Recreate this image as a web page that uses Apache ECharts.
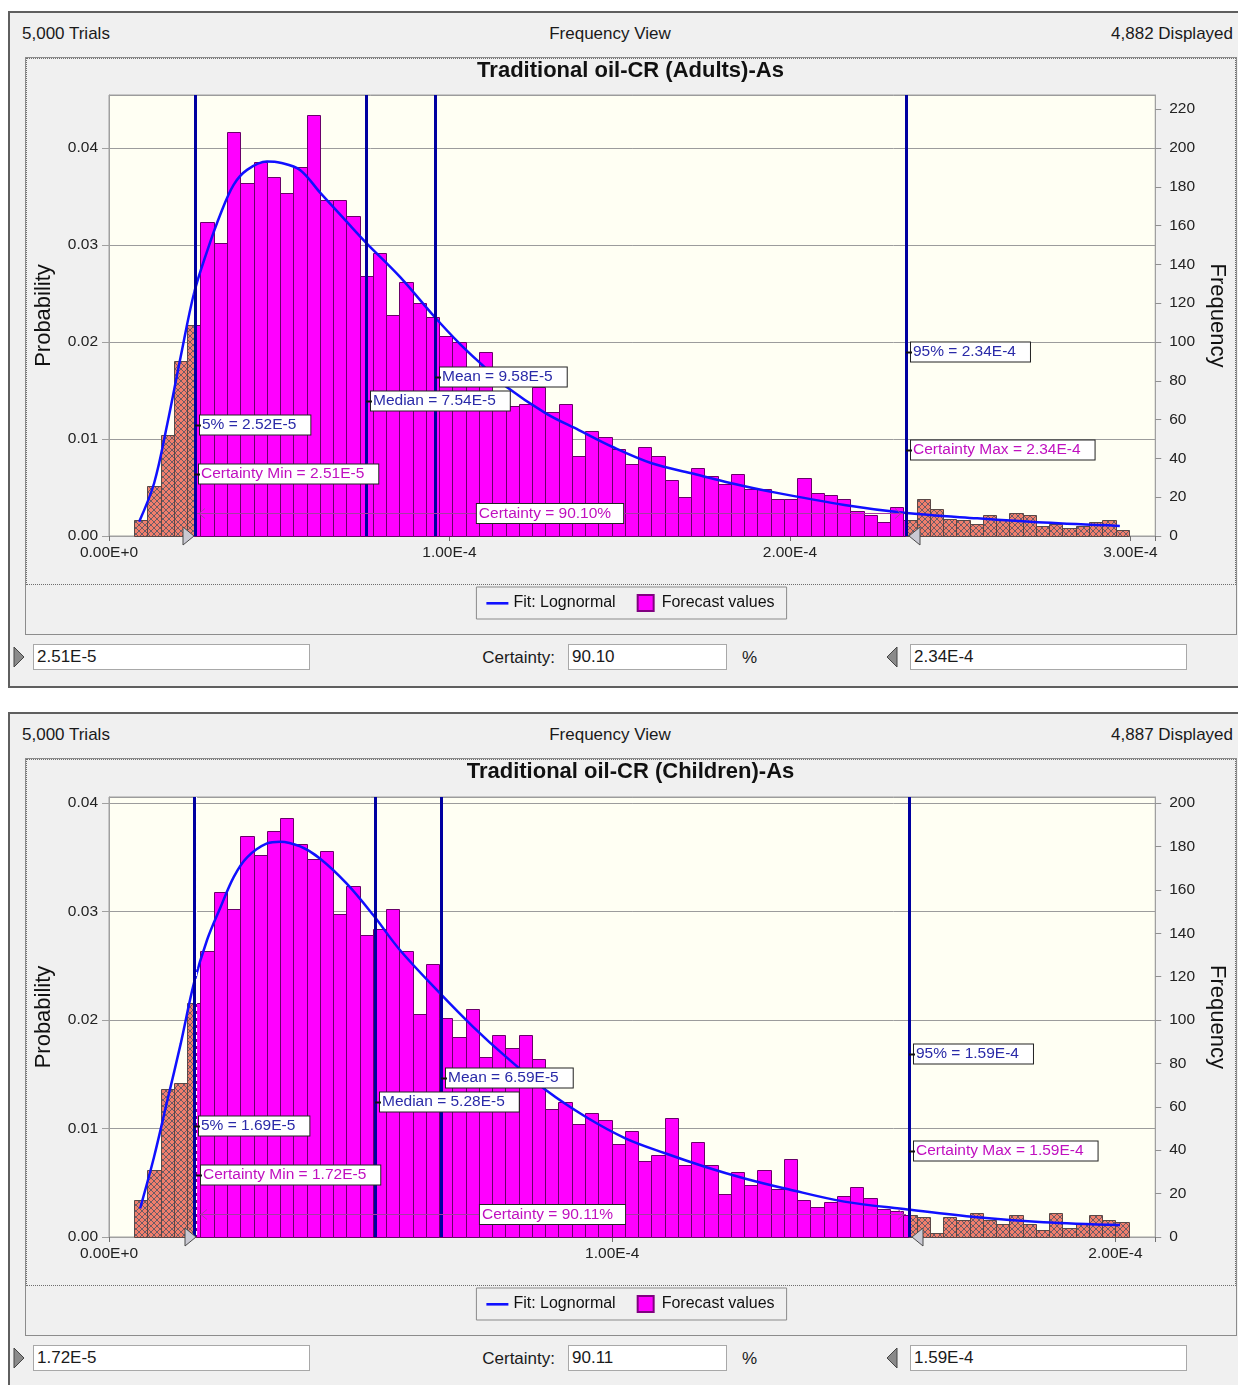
<!DOCTYPE html>
<html>
<head>
<meta charset="utf-8">
<title>Traditional oil-CR forecasts</title>
<script src="https://cdn.jsdelivr.net/npm/echarts@6.0.0/dist/echarts.min.js"></script>
<style>
html,body{margin:0;padding:0;background:#fff;}
body{width:1238px;height:1385px;position:relative;overflow:hidden;font-family:"Liberation Sans",Arial,Helvetica,sans-serif;font-size:17px;color:#1a1a1a;}
.panel{position:absolute;left:8px;width:1240px;background:#f0f0f0;border:2px solid #5f5f5f;box-sizing:border-box;}
.txt{position:absolute;font-size:17px;line-height:20px;white-space:nowrap;}
.frame{position:absolute;left:25px;width:1212px;height:578px;border:1px solid #8c8c8c;box-sizing:border-box;}
.dots{position:absolute;left:26px;width:1210px;height:527px;border:1px dotted #6e6e6e;box-sizing:border-box;}
.chart{position:absolute;left:25px;width:1211px;height:578px;}
.box{position:absolute;height:26px;background:#fff;border:1px solid #a8a8a8;box-sizing:border-box;font-size:17px;line-height:24px;padding-left:3px;white-space:nowrap;}
svg.tri{position:absolute;width:12px;height:22px;}
</style>
</head>
<body>
<!-- ===== Panel 1 : Adults ===== -->
<div class="panel" style="top:11px;height:677px;"></div>
<div class="txt" style="left:22px;top:24px;">5,000 Trials</div>
<div class="txt" style="left:490px;top:24px;width:240px;text-align:center;">Frequency View</div>
<div class="txt" style="left:993px;top:24px;width:240px;text-align:right;">4,882 Displayed</div>
<div class="frame" style="top:57px;"></div>
<div class="dots" style="top:58px;"></div>
<div id="chartA" class="chart" style="top:57px;"></div>
<svg class="tri" style="left:13px;top:646px;" viewBox="0 0 12 22"><polygon points="1,1 11,11 1,21" fill="#8a8a8a" stroke="#444" stroke-width="1"/></svg>
<div class="box" style="left:33px;top:644px;width:277px;">2.51E-5</div>
<div class="txt" style="left:435px;top:648px;width:120px;text-align:right;">Certainty:</div>
<div class="box" style="left:568px;top:644px;width:159px;">90.10</div>
<div class="txt" style="left:742px;top:648px;">%</div>
<svg class="tri" style="left:886px;top:646px;" viewBox="0 0 12 22"><polygon points="11,1 1,11 11,21" fill="#8a8a8a" stroke="#444" stroke-width="1"/></svg>
<div class="box" style="left:910px;top:644px;width:277px;">2.34E-4</div>

<!-- ===== Panel 2 : Children ===== -->
<div class="panel" style="top:712px;height:700px;"></div>
<div class="txt" style="left:22px;top:725px;">5,000 Trials</div>
<div class="txt" style="left:490px;top:725px;width:240px;text-align:center;">Frequency View</div>
<div class="txt" style="left:993px;top:725px;width:240px;text-align:right;">4,887 Displayed</div>
<div class="frame" style="top:758px;"></div>
<div class="dots" style="top:759px;"></div>
<div id="chartB" class="chart" style="top:758px;"></div>
<svg class="tri" style="left:13px;top:1347px;" viewBox="0 0 12 22"><polygon points="1,1 11,11 1,21" fill="#8a8a8a" stroke="#444" stroke-width="1"/></svg>
<div class="box" style="left:33px;top:1345px;width:277px;">1.72E-5</div>
<div class="txt" style="left:435px;top:1349px;width:120px;text-align:right;">Certainty:</div>
<div class="box" style="left:568px;top:1345px;width:159px;">90.11</div>
<div class="txt" style="left:742px;top:1349px;">%</div>
<svg class="tri" style="left:886px;top:1347px;" viewBox="0 0 12 22"><polygon points="11,1 1,11 11,21" fill="#8a8a8a" stroke="#444" stroke-width="1"/></svg>
<div class="box" style="left:910px;top:1345px;width:277px;">1.59E-4</div>

<script>
const FONT = '"Liberation Sans", Arial, Helvetica, sans-serif';
const TRIALS = 5000;

// ---------------- Adults data ----------------
const ADULT_TITLE = 'Traditional oil-CR (Adults)-As';
const ADULT_BIN_START = 7.4e-6;
const ADULT_BIN_WIDTH = 3.895e-6;
const ADULT_FREQ = [8, 26, 52, 90, 109, 162, 151, 208, 182, 193,
  185, 177, 190, 217, 173, 173, 165, 134, 146, 114,
  131, 120, 113, 103, 100, 80, 95, 72, 67, 68,
  77, 64, 68, 41, 54, 51, 45, 37, 46, 41,
  29, 20, 35, 31, 27, 32, 24, 24, 19, 19,
  30, 22, 21, 19, 13, 11, 7, 15, 8, 19,
  14, 9, 8, 6, 11, 8, 12, 11, 5, 6,
  4, 5, 7, 8, 3];
const ADULT_FIT_X = [0.0886e-4, 0.1325e-4, 0.1715e-4, 0.2105e-4, 0.2495e-4, 0.2885e-4, 0.3275e-4, 0.366e-4,
  0.4055e-4, 0.464e-4, 0.503e-4, 0.561e-4, 0.62e-4, 0.698e-4, 0.756e-4, 0.854e-4, 0.956e-4, 1.029e-4,
  1.097e-4, 1.166e-4, 1.283e-4, 1.38e-4, 1.478e-4, 1.594e-4, 1.711e-4, 1.828e-4, 1.945e-4, 2.16e-4,
  2.335e-4, 2.55e-4, 2.745e-4, 2.969e-4];
const ADULT_FIT_F = [7.4, 27.2, 58, 92.4, 125, 147, 166, 181,
  188.7, 193, 192.4, 188.7, 177, 162, 151, 133.7, 113, 99.3,
  88, 77, 63.2, 54.6, 46, 37.5, 32.3, 27.2, 22.8, 16,
  12, 9.1, 6.9, 5.2];
const ADULT_MARK_VALUES = [2.52e-5, 7.54e-5, 9.58e-5, 2.34e-4];
const ADULT_MARK_TEXT = ['5% = 2.52E-5', 'Median = 7.54E-5', 'Mean = 9.58E-5', '95% = 2.34E-4'];
const ADULT_CERT_VALUES = [2.51e-5, 2.34e-4];
const ADULT_CERT_TEXT = ['Certainty Min = 2.51E-5', 'Certainty Max = 2.34E-4', 'Certainty = 90.10%'];
const ADULT_X_TICKS = [0, 1e-4, 2e-4, 3e-4];
const ADULT_X_LABELS = ['0.00E+0', '1.00E-4', '2.00E-4', '3.00E-4'];
const ADULT_FREQ_TICKS = [0, 20, 40, 60, 80, 100, 120, 140, 160, 180, 200, 220];

// ---------------- Children data ----------------
const CHILD_TITLE = 'Traditional oil-CR (Children)-As';
const CHILD_BIN_START = 5.0e-6;
const CHILD_BIN_WIDTH = 2.635e-6;
const CHILD_FREQ = [17, 31, 68, 71, 108, 132, 159, 151, 185, 176,
  187, 193, 181, 174, 178, 149, 162, 139, 142, 151,
  132, 103, 126, 101, 92, 105, 83, 93, 87, 93,
  82, 59, 62, 52, 57, 54, 43, 49, 35, 38,
  55, 33, 44, 33, 20, 30, 24, 31, 22, 36,
  17, 14, 16, 19, 23, 18, 13, 12, 10, 9,
  2, 9, 8, 11, 8, 6, 10, 6, 3, 11,
  4, 6, 10, 8, 7];
const CHILD_FIT_X = [0.0619e-4, 0.0896e-4, 0.116e-4, 0.1424e-4, 0.1688e-4, 0.195e-4, 0.2216e-4, 0.248e-4,
  0.2744e-4, 0.314e-4, 0.340e-4, 0.380e-4, 0.419e-4, 0.472e-4, 0.525e-4, 0.578e-4, 0.657e-4, 0.723e-4,
  0.789e-4, 0.868e-4, 0.947e-4, 1.026e-4, 1.105e-4, 1.184e-4, 1.263e-4, 1.35e-4, 1.461e-4, 1.587e-4,
  1.725e-4, 1.857e-4, 2.009e-4];
const CHILD_FIT_F = [13.2, 37, 63, 89, 117, 137, 152, 166,
  175, 181.4, 182.2, 180, 174.5, 163, 148.4, 132.3, 112.5, 97,
  83, 67.7, 55.4, 45.5, 38.6, 32.4, 27, 22, 16.3, 12.7,
  9.1, 6.8, 5.5];
const CHILD_MARK_VALUES = [1.69e-5, 5.28e-5, 6.59e-5, 1.59e-4];
const CHILD_MARK_TEXT = ['5% = 1.69E-5', 'Median = 5.28E-5', 'Mean = 6.59E-5', '95% = 1.59E-4'];
const CHILD_CERT_VALUES = [1.72e-5, 1.59e-4];
const CHILD_CERT_TEXT = ['Certainty Min = 1.72E-5', 'Certainty Max = 1.59E-4', 'Certainty = 90.11%'];
const CHILD_X_TICKS = [0, 1e-4, 2e-4];
const CHILD_X_LABELS = ['0.00E+0', '1.00E-4', '2.00E-4'];
const CHILD_FREQ_TICKS = [0, 20, 40, 60, 80, 100, 120, 140, 160, 180, 200];

// shared tick labels
const PROB_TICKS = [0, 0.01, 0.02, 0.03, 0.04];
const PROB_LABELS = ['0.00', '0.01', '0.02', '0.03', '0.04'];

// ---------------- layout (not data) ----------------
const MARK_ROWS = [0.252, 0.306, 0.3605, 0.417];  // label heights as fraction of plot height
const CERT_ROWS = [0.1406, 0.195];
const CERTAINTY_ROW = 0.053;
const LABEL_FONT_SIZE = 15.5;

function makeHatch() {
  const s = 6;
  const cv = document.createElement('canvas');
  cv.width = s; cv.height = s;
  const g = cv.getContext('2d');
  g.fillStyle = '#f07e6c';
  g.fillRect(0, 0, s, s);
  g.strokeStyle = 'rgba(85,85,100,0.85)';
  g.lineWidth = 1;
  g.beginPath();
  g.moveTo(0, 0); g.lineTo(s, s);
  g.moveTo(s, 0); g.lineTo(0, s);
  g.stroke();
  return { image: cv, repeat: 'repeat' };
}

function pick(ticks, labels) {
  return function (v) {
    const i = ticks.findIndex(t => Math.abs(t - v) <= Math.abs(t) * 1e-6 + 1e-12);
    return i < 0 ? '' : String(labels[i]);
  };
}

function labelBox(x, y, text, color, align, pad) {
  return {
    type: 'text', x: x, y: y,
    style: {
      text: text, fill: color, fontSize: LABEL_FONT_SIZE, fontFamily: FONT,
      align: align || 'left', verticalAlign: 'middle',
      backgroundColor: '#ffffff', borderColor: '#222', borderWidth: 1,
      padding: pad || [2, 14, 1, 2]
    }
  };
}

function buildOption(c) {
  const hatch = makeHatch();
  const binData = c.freq.map((f, i) => [c.binStart + i * c.binWidth, c.binStart + (i + 1) * c.binWidth, f]);
  const fitData = c.fitX.map((x, i) => [x, c.fitF[i]]);
  const certMin = c.cert[0], certMax = c.cert[1];
  const xOf = (api, v) => Math.round(api.coord([v, 0])[0]);

  return {
    animation: false,
    title: {
      text: c.title, left: 'center', top: 3, padding: 0,
      textStyle: { fontSize: 22, fontWeight: 'bold', color: '#111', fontFamily: FONT }
    },
    legend: {
      left: 'center', top: 530, orient: 'horizontal',
      itemWidth: 22, itemHeight: 16, itemGap: 18,
      padding: [7, 12, 7, 10],
      borderColor: '#8a8a8a', borderWidth: 1, backgroundColor: '#f0f0f0',
      selectedMode: false,
      textStyle: { fontSize: 16, color: '#111', fontFamily: FONT },
      data: [
        { name: 'Fit: Lognormal', icon: 'path://M0,0M22,16M0,7L22,7L22,9.6L0,9.6Z' },
        { name: 'Forecast values', icon: 'path://M0,0M22,16M3,0L19,0L19,16L3,16Z' }
      ]
    },
    grid: {
      left: 82, top: c.gridTop, width: 1051, height: c.gridHeight,
      show: true, backgroundColor: '#fffff3', borderColor: '#a0a0a0', borderWidth: 1
    },
    xAxis: {
      type: 'value', min: 0, max: c.xMax, interval: 1e-4,
      axisLine: { show: true, lineStyle: { color: '#a0a0a0' } },
      axisTick: { show: true, length: 5, lineStyle: { color: '#707070' } },
      axisLabel: { fontSize: 15.5, color: '#222', fontFamily: FONT, margin: 9, formatter: pick(c.xTicks, c.xLabels) },
      splitLine: { show: false }
    },
    yAxis: [
      {
        type: 'value', position: 'left', min: 0, max: c.freqMax / TRIALS, interval: 0.01,
        name: 'Probability', nameLocation: 'middle', nameGap: 54,
        nameTextStyle: { fontSize: 22, color: '#111', fontFamily: FONT },
        axisLine: { show: true, lineStyle: { color: '#a0a0a0' } },
        axisTick: { show: true, length: 7, lineStyle: { color: '#a0a0a0' } },
        axisLabel: { fontSize: 15.5, color: '#222', fontFamily: FONT, margin: 11, showMaxLabel: false, formatter: pick(PROB_TICKS, PROB_LABELS) },
        splitLine: { show: true, lineStyle: { color: '#9c9c9c', width: 1 } }
      },
      {
        type: 'value', position: 'right', min: 0, max: c.freqMax, interval: 20,
        name: 'Frequency', nameLocation: 'middle', nameGap: 44, nameRotate: -90,
        nameTextStyle: { fontSize: 22, color: '#111', fontFamily: FONT },
        axisLine: { show: true, lineStyle: { color: '#a0a0a0' } },
        axisTick: { show: true, length: 6, lineStyle: { color: '#909090' } },
        axisLabel: { fontSize: 15.5, color: '#222', fontFamily: FONT, margin: 14, showMaxLabel: false, formatter: pick(c.freqTicks, c.freqTicks) },
        splitLine: { show: false }
      }
    ],
    series: [
      {
        type: 'custom', name: 'Forecast values', xAxisIndex: 0, yAxisIndex: 1, z: 1, silent: true,
        itemStyle: { color: '#ff00ff', borderColor: '#800080', borderWidth: 1 },
        data: binData,
        renderItem: function (params, api) {
          const a = api.value(0), b = api.value(1), f = api.value(2);
          const cuts = [a];
          [certMin, certMax].forEach(v => { if (v > a && v < b) cuts.push(v); });
          cuts.push(b);
          const yTop = Math.round(api.coord([a, f])[1]) + 0.5;
          const yBot = Math.round(api.coord([a, 0])[1]) + 0.5;
          const children = [];
          for (let k = 0; k < cuts.length - 1; k++) {
            const x0 = xOf(api, cuts[k]) + 0.5;
            const x1 = xOf(api, cuts[k + 1]) + 0.5;
            const mid = (cuts[k] + cuts[k + 1]) / 2;
            const inside = mid >= certMin && mid <= certMax;
            children.push({
              type: 'rect',
              shape: { x: x0, y: yTop, width: x1 - x0, height: yBot - yTop },
              style: { fill: inside ? '#ff00ff' : hatch, stroke: inside ? '#6a006a' : '#5a4846', lineWidth: 1 }
            });
          }
          return { type: 'group', children: children };
        }
      },
      {
        type: 'line', name: 'Fit: Lognormal', xAxisIndex: 0, yAxisIndex: 1, z: 3,
        data: fitData, smooth: 0.35, symbol: 'none', silent: true,
        lineStyle: { color: '#1010ff', width: 2.5 },
        itemStyle: { color: '#1010ff' }
      },
      {
        // dashed certainty-range edges (beneath the statistic lines)
        type: 'custom', name: 'certEdges', xAxisIndex: 0, yAxisIndex: 1, z: 4, silent: true,
        data: c.cert.map(v => [v]),
        renderItem: function (params, api) {
          const cs = params.coordSys;
          const x = xOf(api, api.value(0)) + 0.5;
          return {
            type: 'group', children: [
              { type: 'line', shape: { x1: x, y1: cs.y, x2: x, y2: cs.y + cs.height }, style: { stroke: '#ffffff', lineWidth: 1.2, lineDash: [4, 3] } }
            ]
          };
        }
      },
      {
        // statistic lines: 5%, median, mean, 95%
        type: 'custom', name: 'statLines', xAxisIndex: 0, yAxisIndex: 1, z: 5, silent: true,
        data: c.markValues.map(v => [v]),
        renderItem: function (params, api) {
          const cs = params.coordSys;
          const x = xOf(api, api.value(0)) + 0.5;
          return { type: 'line', shape: { x1: x, y1: cs.y, x2: x, y2: cs.y + cs.height }, style: { stroke: '#0000a0', lineWidth: 3 } };
        }
      },
      {
        // statistic labels
        type: 'custom', name: 'statLabels', xAxisIndex: 0, yAxisIndex: 1, z: 6, silent: true,
        data: c.markValues.map((v, i) => [v, i]),
        renderItem: function (params, api) {
          const i = api.value(1);
          const cs = params.coordSys;
          const x = xOf(api, api.value(0));
          const y = Math.round(cs.y + cs.height * (1 - MARK_ROWS[i]));
          return {
            type: 'group', children: [
              labelBox(x + 5, y, c.markText[i], '#2a2aa8'),
              { type: 'line', shape: { x1: x, y1: y + 0.5, x2: x + 6, y2: y + 0.5 }, style: { stroke: '#111', lineWidth: 2 } }
            ]
          };
        }
      },
      {
        // certainty range annotation
        type: 'custom', name: 'certainty', xAxisIndex: 0, yAxisIndex: 1, z: 7, silent: true,
        data: [[certMin, certMax]],
        renderItem: function (params, api) {
          const cs = params.coordSys;
          const xa = xOf(api, api.value(0));
          const xb = xOf(api, api.value(1));
          const base = cs.y + cs.height;
          const yMin = Math.round(cs.y + cs.height * (1 - CERT_ROWS[0]));
          const yMax = Math.round(cs.y + cs.height * (1 - CERT_ROWS[1]));
          const yC = Math.round(cs.y + cs.height * (1 - CERTAINTY_ROW)) + 0.5;
          const purple = '#a43ca4';
          return {
            type: 'group', children: [
              { type: 'line', shape: { x1: xa + 3, y1: yC, x2: xb - 3, y2: yC }, style: { stroke: purple, lineWidth: 1 } },
              { type: 'polyline', shape: { points: [[xa + 11, yC - 5], [xa + 5, yC], [xa + 11, yC + 5]] }, style: { stroke: purple, lineWidth: 1, fill: null } },
              { type: 'polyline', shape: { points: [[xb - 11, yC - 5], [xb - 5, yC], [xb - 11, yC + 5]] }, style: { stroke: purple, lineWidth: 1, fill: null } },
              labelBox(xa + 5, yMin, c.certText[0], '#c010c0'),
              { type: 'line', shape: { x1: xa, y1: yMin + 0.5, x2: xa + 6, y2: yMin + 0.5 }, style: { stroke: '#111', lineWidth: 2 } },
              labelBox(xb + 5, yMax, c.certText[1], '#c010c0'),
              { type: 'line', shape: { x1: xb, y1: yMax + 0.5, x2: xb + 6, y2: yMax + 0.5 }, style: { stroke: '#111', lineWidth: 2 } },
              labelBox((xa + xb) / 2, yC, c.certText[2], '#c010c0', 'center', [2, 12, 1, 2]),
              { type: 'polygon', shape: { points: [[xa, base], [xa - 11, base - 9], [xa - 11, base + 9]] }, style: { fill: '#c9c9d3', stroke: '#4a4a4a', lineWidth: 1 } },
              { type: 'polygon', shape: { points: [[xb + 3, base], [xb + 14, base - 9], [xb + 14, base + 9]] }, style: { fill: '#c9c9d3', stroke: '#4a4a4a', lineWidth: 1 } }
            ]
          };
        }
      }
    ]
  };
}

const chartA = echarts.init(document.getElementById('chartA'), null, { renderer: 'canvas' });
chartA.setOption(buildOption({
  title: ADULT_TITLE, binStart: ADULT_BIN_START, binWidth: ADULT_BIN_WIDTH, freq: ADULT_FREQ,
  fitX: ADULT_FIT_X, fitF: ADULT_FIT_F, markValues: ADULT_MARK_VALUES, markText: ADULT_MARK_TEXT,
  cert: ADULT_CERT_VALUES, certText: ADULT_CERT_TEXT, xTicks: ADULT_X_TICKS, xLabels: ADULT_X_LABELS,
  freqTicks: ADULT_FREQ_TICKS, xMax: 3.073e-4, freqMax: 227.3, gridTop: 38, gridHeight: 441
}));

const chartB = echarts.init(document.getElementById('chartB'), null, { renderer: 'canvas' });
chartB.setOption(buildOption({
  title: CHILD_TITLE, binStart: CHILD_BIN_START, binWidth: CHILD_BIN_WIDTH, freq: CHILD_FREQ,
  fitX: CHILD_FIT_X, fitF: CHILD_FIT_F, markValues: CHILD_MARK_VALUES, markText: CHILD_MARK_TEXT,
  cert: CHILD_CERT_VALUES, certText: CHILD_CERT_TEXT, xTicks: CHILD_X_TICKS, xLabels: CHILD_X_LABELS,
  freqTicks: CHILD_FREQ_TICKS, xMax: 2.079e-4, freqMax: 202.8, gridTop: 39, gridHeight: 440
}));
</script>
</body>
</html>
